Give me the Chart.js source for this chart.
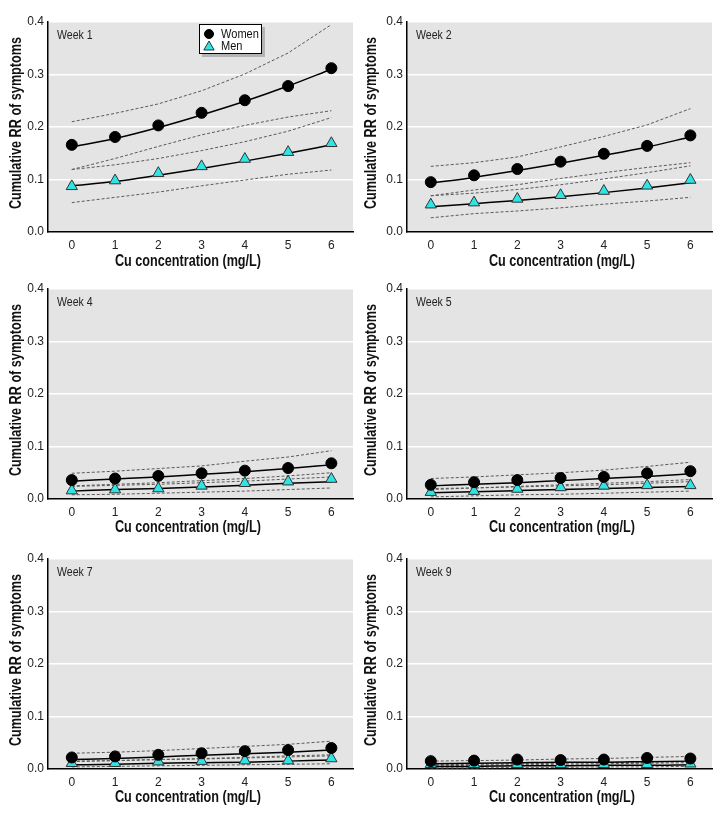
<!DOCTYPE html>
<html><head><meta charset="utf-8">
<script src="https://cdn.jsdelivr.net/npm/chart.js@4.4.1/dist/chart.umd.min.js"></script>
<style>
html,body{margin:0;padding:0;background:#fff;}
#wrap{position:relative;width:724px;height:814px;overflow:hidden;}
canvas{position:absolute;}
</style></head><body><div id="wrap"></div>
<script>
// ---------- DATA ----------
const cuConc = [0, 1, 2, 3, 4, 5, 6];
const xTickValues = [0, 1, 2, 3, 4, 5, 6];
const yTickValues = [0, 0.1, 0.2, 0.3, 0.4];
const weekLabels = ['Week 1', 'Week 2', 'Week 4', 'Week 5', 'Week 7', 'Week 9'];
const seriesNames = ['Women', 'Men'];
const xTitle = 'Cu concentration (mg/L)';
const yTitle = 'Cumulative RR of symptoms';

// Week 1
const w1WomenObs = [0.166, 0.181, 0.203, 0.227, 0.251, 0.278, 0.312];
const w1WomenFit = [0.162, 0.178, 0.199, 0.223, 0.249, 0.278, 0.310];
const w1WomenHi  = [0.210, 0.226, 0.244, 0.269, 0.301, 0.341, 0.395];
const w1WomenLo  = [0.119, 0.140, 0.163, 0.185, 0.203, 0.219, 0.231];
const w1MenObs   = [0.087, 0.098, 0.112, 0.125, 0.139, 0.152, 0.169];
const w1MenFit   = [0.088, 0.096, 0.108, 0.121, 0.135, 0.150, 0.166];
const w1MenHi    = [0.119, 0.128, 0.140, 0.155, 0.172, 0.192, 0.218];
const w1MenLo    = [0.056, 0.066, 0.076, 0.088, 0.099, 0.110, 0.118];
// Week 2
const w2WomenObs = [0.095, 0.108, 0.120, 0.134, 0.149, 0.164, 0.184];
const w2WomenFit = [0.093, 0.104, 0.117, 0.131, 0.146, 0.162, 0.181];
const w2WomenHi  = [0.125, 0.132, 0.143, 0.162, 0.182, 0.204, 0.235];
const w2WomenLo  = [0.069, 0.080, 0.090, 0.102, 0.113, 0.123, 0.132];
const w2MenObs   = [0.052, 0.056, 0.063, 0.070, 0.078, 0.088, 0.099];
const w2MenFit   = [0.048, 0.054, 0.060, 0.067, 0.075, 0.084, 0.094];
const w2MenHi    = [0.069, 0.074, 0.081, 0.090, 0.101, 0.113, 0.126];
const w2MenLo    = [0.027, 0.035, 0.040, 0.046, 0.053, 0.059, 0.066];
// Week 4
const w4WomenObs = [0.036, 0.039, 0.044, 0.049, 0.054, 0.059, 0.068];
const w4WomenFit = [0.034, 0.038, 0.042, 0.047, 0.052, 0.058, 0.065];
const w4WomenHi  = [0.049, 0.053, 0.058, 0.063, 0.072, 0.080, 0.092];
const w4WomenLo  = [0.025, 0.028, 0.031, 0.035, 0.039, 0.044, 0.050];
const w4MenObs   = [0.016, 0.018, 0.020, 0.025, 0.030, 0.033, 0.038];
const w4MenFit   = [0.015, 0.018, 0.020, 0.023, 0.026, 0.030, 0.033];
const w4MenHi    = [0.024, 0.026, 0.028, 0.031, 0.034, 0.038, 0.042];
const w4MenLo    = [0.008, 0.009, 0.011, 0.013, 0.015, 0.018, 0.021];
// Week 5
const w5WomenObs = [0.027, 0.032, 0.036, 0.040, 0.042, 0.049, 0.053];
const w5WomenFit = [0.025, 0.028, 0.031, 0.035, 0.039, 0.043, 0.048];
const w5WomenHi  = [0.039, 0.042, 0.046, 0.050, 0.055, 0.062, 0.070];
const w5WomenLo  = [0.018, 0.021, 0.024, 0.027, 0.030, 0.033, 0.037];
const w5MenObs   = [0.013, 0.015, 0.019, 0.022, 0.025, 0.026, 0.026];
const w5MenFit   = [0.012, 0.014, 0.016, 0.018, 0.020, 0.022, 0.024];
const w5MenHi    = [0.020, 0.021, 0.023, 0.025, 0.027, 0.030, 0.033];
const w5MenLo    = [0.004, 0.006, 0.008, 0.009, 0.011, 0.013, 0.015];
// Week 7
const w7WomenObs = [0.022, 0.024, 0.027, 0.030, 0.034, 0.036, 0.040];
const w7WomenFit = [0.018, 0.020, 0.023, 0.026, 0.029, 0.032, 0.036];
const w7WomenHi  = [0.030, 0.032, 0.035, 0.039, 0.043, 0.047, 0.053];
const w7WomenLo  = [0.014, 0.016, 0.018, 0.020, 0.022, 0.025, 0.027];
const w7MenObs   = [0.011, 0.011, 0.014, 0.015, 0.016, 0.016, 0.020];
const w7MenFit   = [0.008, 0.009, 0.011, 0.012, 0.013, 0.015, 0.017];
const w7MenHi    = [0.015, 0.016, 0.018, 0.019, 0.021, 0.023, 0.025];
const w7MenLo    = [0.004, 0.005, 0.006, 0.007, 0.008, 0.009, 0.010];
// Week 9
const w9WomenObs = [0.015, 0.016, 0.018, 0.017, 0.018, 0.021, 0.020];
const w9WomenFit = [0.010, 0.011, 0.012, 0.013, 0.013, 0.014, 0.015];
const w9WomenHi  = [0.015, 0.016, 0.017, 0.019, 0.020, 0.022, 0.024];
const w9WomenLo  = [0.006, 0.007, 0.008, 0.009, 0.010, 0.011, 0.012];
const w9MenObs   = [0.009, 0.009, 0.009, 0.009, 0.009, 0.009, 0.010];
const w9MenFit   = [0.005, 0.005, 0.006, 0.006, 0.007, 0.007, 0.008];
const w9MenHi    = [0.008, 0.009, 0.010, 0.011, 0.012, 0.013, 0.014];
const w9MenLo    = [0.002, 0.002, 0.003, 0.003, 0.004, 0.004, 0.005];

// ---------- LAYOUT / STYLE ----------
const FONT = '"Liberation Sans", Arial, sans-serif';
const PLOT_BG = '#e4e4e4';
const CYAN = '#2ee4e4';

const panelData = [
  [w1WomenObs, w1WomenFit, w1WomenHi, w1WomenLo, w1MenObs, w1MenFit, w1MenHi, w1MenLo],
  [w2WomenObs, w2WomenFit, w2WomenHi, w2WomenLo, w2MenObs, w2MenFit, w2MenHi, w2MenLo],
  [w4WomenObs, w4WomenFit, w4WomenHi, w4WomenLo, w4MenObs, w4MenFit, w4MenHi, w4MenLo],
  [w5WomenObs, w5WomenFit, w5WomenHi, w5WomenLo, w5MenObs, w5MenFit, w5MenHi, w5MenLo],
  [w7WomenObs, w7WomenFit, w7WomenHi, w7WomenLo, w7MenObs, w7MenFit, w7MenHi, w7MenLo],
  [w9WomenObs, w9WomenFit, w9WomenHi, w9WomenLo, w9MenObs, w9MenFit, w9MenHi, w9MenLo]
];

const colX = [0, 362];
const caLefts = [48, 407];
const caRights = [353, 712];
const yTitleX = [17, 10];      // relative to canvas
const xTitleX = [188, 200];    // relative to canvas
const rowY = [0, 270, 540];
const caTops = [22, 289, 559];
const caBottoms = [232, 499, 769];
const xTitleY = [262, 258, 258]; // relative to canvas
const CW = 362, CH = 270;
const SQUEEZE = 0.79;

function pts(arr) { return cuConc.map((x, i) => ({ x: x, y: arr[i] })); }

const bgPlugin = {
  id: 'plotBg',
  beforeDraw(chart) {
    const a = chart.chartArea, ctx = chart.ctx;
    ctx.save();
    ctx.fillStyle = PLOT_BG;
    ctx.fillRect(a.left, a.top, a.right - a.left, a.bottom - a.top);
    ctx.restore();
  }
};

function drawMarker(ctx, style, x, y, r, fill, stroke) {
  ctx.save();
  ctx.fillStyle = fill; ctx.strokeStyle = stroke; ctx.lineWidth = 1;
  ctx.beginPath();
  if (style === 'circle') {
    ctx.arc(x, y, r, 0, Math.PI * 2);
  } else {
    for (let k = 0; k < 3; k++) {
      const ang = k * 2 * Math.PI / 3;
      const px = x + Math.sin(ang) * r, py = y - Math.cos(ang) * r;
      if (k === 0) ctx.moveTo(px, py); else ctx.lineTo(px, py);
    }
    ctx.closePath();
  }
  ctx.fill(); ctx.stroke();
  ctx.restore();
}

function squeezedText(ctx, text, x, y, rot, sx, align) {
  ctx.save();
  ctx.translate(x, y);
  if (rot) ctx.rotate(rot);
  ctx.scale(sx, 1);
  ctx.textAlign = align || 'center';
  ctx.textBaseline = 'middle';
  ctx.fillText(text, 0, 0);
  ctx.restore();
}

const labelPlugin = {
  id: 'panelText',
  afterDraw(chart, args, opts) {
    const a = chart.chartArea, ctx = chart.ctx;
    ctx.save();
    // axis titles
    ctx.fillStyle = '#111';
    ctx.font = 'bold 16px ' + FONT;
    squeezedText(ctx, yTitle, opts.yTitleX, (a.top + a.bottom) / 2 - 4, -Math.PI / 2, SQUEEZE);
    squeezedText(ctx, xTitle, opts.xTitleX, opts.xTitleY, 0, SQUEEZE);
    // week label
    ctx.fillStyle = '#222';
    ctx.font = '12px ' + FONT;
    squeezedText(ctx, opts.text, a.left + 9, a.top + 14, 0, 0.88, 'left');
    if (opts.legend) {
      const bx = a.left + 151, by = a.top + 2, bw = 63, bh = 30;
      ctx.fillStyle = '#b4b4b4';
      ctx.fillRect(bx + 3, by + 3, bw, bh);
      ctx.fillStyle = '#fff';
      ctx.fillRect(bx, by, bw, bh);
      ctx.strokeStyle = '#000'; ctx.lineWidth = 1;
      ctx.strokeRect(bx + 0.5, by + 0.5, bw - 1, bh - 1);
      drawMarker(ctx, 'circle', bx + 10, by + 10, 4.5, '#000', '#000');
      drawMarker(ctx, 'triangle', bx + 10, by + 23, 6, CYAN, '#333');
      ctx.fillStyle = '#111';
      ctx.font = '13px ' + FONT;
      squeezedText(ctx, seriesNames[0], bx + 22, by + 10, 0, 0.85, 'left');
      squeezedText(ctx, seriesNames[1], bx + 22, by + 22, 0, 0.85, 'left');
    }
    ctx.restore();
  }
};

const wrap = document.getElementById('wrap');
panelData.forEach((d, p) => {
  const c = p % 2, r = Math.floor(p / 2);
  const cv = document.createElement('canvas');
  cv.width = CW; cv.height = CH;
  cv.style.left = colX[c] + 'px'; cv.style.top = rowY[r] + 'px';
  cv.style.width = CW + 'px'; cv.style.height = CH + 'px';
  wrap.appendChild(cv);
  const yW = caLefts[c] - colX[c];
  const xH = rowY[r] + CH - caBottoms[r];
  const ci = (arr) => ({ data: pts(arr), borderColor: '#5a5a5a', borderWidth: 1, borderDash: [3, 2], pointRadius: 0, showLine: true, fill: false, order: 3 });
  const fit = (arr) => ({ data: pts(arr), borderColor: '#000', borderWidth: 1.5, pointRadius: 0, showLine: true, fill: false, cubicInterpolationMode: 'monotone', order: 2 });
  const datasets = [
    { label: seriesNames[0], data: pts(d[0]), showLine: false, pointStyle: 'circle', pointRadius: 5.5, pointBackgroundColor: '#000', pointBorderColor: '#000', pointBorderWidth: 1, order: 0 },
    fit(d[1]), ci(d[2]), ci(d[3]),
    { label: seriesNames[1], data: pts(d[4]), showLine: false, pointStyle: 'triangle', pointRadius: 6.5, pointBackgroundColor: CYAN, pointBorderColor: '#333', pointBorderWidth: 1, order: 1 },
    fit(d[5]), ci(d[6]), ci(d[7])
  ];
  new Chart(cv, {
    type: 'scatter',
    data: { datasets },
    plugins: [bgPlugin, labelPlugin],
    options: {
      responsive: false, animation: false, events: [],
      layout: { padding: { left: 0, top: caTops[r] - rowY[r], right: colX[c] + CW - caRights[c], bottom: 0 } },
      plugins: {
        legend: { display: false }, tooltip: { enabled: false },
        panelText: { text: weekLabels[p], legend: p === 0, yTitleX: yTitleX[c], xTitleX: xTitleX[c], xTitleY: xTitleY[r] }
      },
      scales: {
        x: {
          type: 'linear', min: -0.55, max: 6.5,
          afterBuildTicks: (s) => { s.ticks = xTickValues.map(v => ({ value: v })); },
          afterFit: (s) => { s.height = xH; },
          grid: { display: false, drawTicks: false },
          border: { display: true, color: '#000', width: 1.5 },
          ticks: { padding: 6, color: '#222', font: { family: FONT, size: 12 }, callback: (v) => String(v) },
          title: { display: false }
        },
        y: {
          type: 'linear', min: 0, max: 0.4,
          afterBuildTicks: (s) => { s.ticks = yTickValues.map(v => ({ value: v })); },
          afterFit: (s) => { s.width = yW; },
          grid: { display: true, drawTicks: false, color: (ctx) => ctx.tick && ctx.tick.value === 0 ? 'rgba(0,0,0,0)' : '#ffffff', lineWidth: 1.5 },
          border: { display: true, color: '#000', width: 1.5 },
          ticks: { padding: 4, color: '#222', font: { family: FONT, size: 12 }, callback: (v) => Number(v).toFixed(1) },
          title: { display: false }
        }
      }
    }
  });
});
</script></body></html>
